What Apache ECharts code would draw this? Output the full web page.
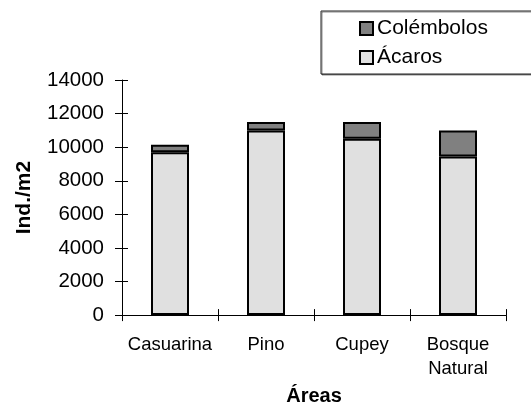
<!DOCTYPE html>
<html>
<head>
<meta charset="utf-8">
<script src="https://cdn.jsdelivr.net/npm/echarts@6/dist/echarts.min.js"></script>
<style>
  html, body { margin: 0; padding: 0; background: #fff; }
  #chart { width: 531px; height: 411px; }
</style>
</head>
<body>
<div id="chart"></div>
<script>
// Densidad de artrópodos del suelo por área (Ind./m2)
const areas = ['Casuarina', 'Pino', 'Cupey', 'Bosque\nNatural'];
const acaros = [9700, 11000, 10500, 9450];
const colembolos = [450, 500, 1000, 1550];
const yTicks = { min: 0, max: 14000, interval: 2000 };

const font = '"Liberation Sans", Arial, sans-serif';
const chart = echarts.init(document.getElementById('chart'), null, { renderer: 'canvas' });

const barStyle = (fill) => ({ color: fill, borderColor: '#000', borderWidth: 2 });

chart.setOption({
  animation: false,
  backgroundColor: '#fff',
  textStyle: { fontFamily: font, color: '#000' },
  grid: { left: 122, right: 25, top: 80, bottom: 95, containLabel: false },
  legend: {
    orient: 'vertical',
    left: 321,
    top: 11,
    padding: [7, 80, 6, 38],
    itemGap: 8,
    itemWidth: 13,
    itemHeight: 13,
    borderColor: '#222',
    borderWidth: 1,
    backgroundColor: '#fff',
    shadowColor: 'rgba(0,0,0,0.45)',
    shadowOffsetX: 1,
    shadowOffsetY: 1,
    shadowBlur: 0,
    icon: 'rect',
    textStyle: { fontFamily: font, fontSize: 21, color: '#000', padding: [0, 0, 0, -1] },
    itemStyle: { borderColor: '#000', borderWidth: 2 },
    data: ['Colémbolos', 'Ácaros']
  },
  xAxis: [
    {
      type: 'category',
      data: areas,
      name: 'Áreas',
      nameLocation: 'middle',
      nameGap: 69,
      nameTextStyle: { fontFamily: font, fontSize: 20, fontWeight: 'bold', color: '#000' },
      axisLine: { lineStyle: { color: '#000', width: 1 } },
      axisTick: { show: true, length: 6, lineStyle: { color: '#000' } },
      axisLabel: { interval: 0, fontFamily: font, fontSize: 18.5, color: '#000', margin: 18, lineHeight: 24 }
    },
    {
      // marcas interiores para que las divisiones crucen el eje
      type: 'category',
      data: areas,
      position: 'bottom',
      axisLine: { show: false },
      axisTick: { show: true, inside: true, length: 6, lineStyle: { color: '#000' } },
      axisLabel: { show: false }
    }
  ],
  yAxis: [
    {
      type: 'value',
      min: yTicks.min,
      max: yTicks.max,
      interval: yTicks.interval,
      name: 'Ind./m2',
      nameLocation: 'middle',
      nameGap: 87,
      nameTextStyle: { fontFamily: font, fontSize: 21, fontWeight: 'bold', color: '#000' },
      splitLine: { show: false },
      axisLine: { show: true, lineStyle: { color: '#000', width: 1 } },
      axisTick: { show: true, length: 7, lineStyle: { color: '#000' } },
      axisLabel: { fontFamily: font, fontSize: 20.5, color: '#000', margin: 18, formatter: (v) => String(v) }
    },
    {
      type: 'value',
      position: 'left',
      min: yTicks.min,
      max: yTicks.max,
      interval: yTicks.interval,
      splitLine: { show: false },
      axisLine: { show: false },
      axisTick: { show: true, inside: true, length: 6, lineStyle: { color: '#000' } },
      axisLabel: { show: false }
    }
  ],
  series: [
    {
      name: 'Ácaros',
      type: 'bar',
      stack: 'total',
      barWidth: 38,
      data: acaros,
      itemStyle: barStyle('#e0e0e0')
    },
    {
      name: 'Colémbolos',
      type: 'bar',
      stack: 'total',
      barWidth: 38,
      data: colembolos,
      itemStyle: barStyle('#808080')
    }
  ]
});
</script>
</body>
</html>
